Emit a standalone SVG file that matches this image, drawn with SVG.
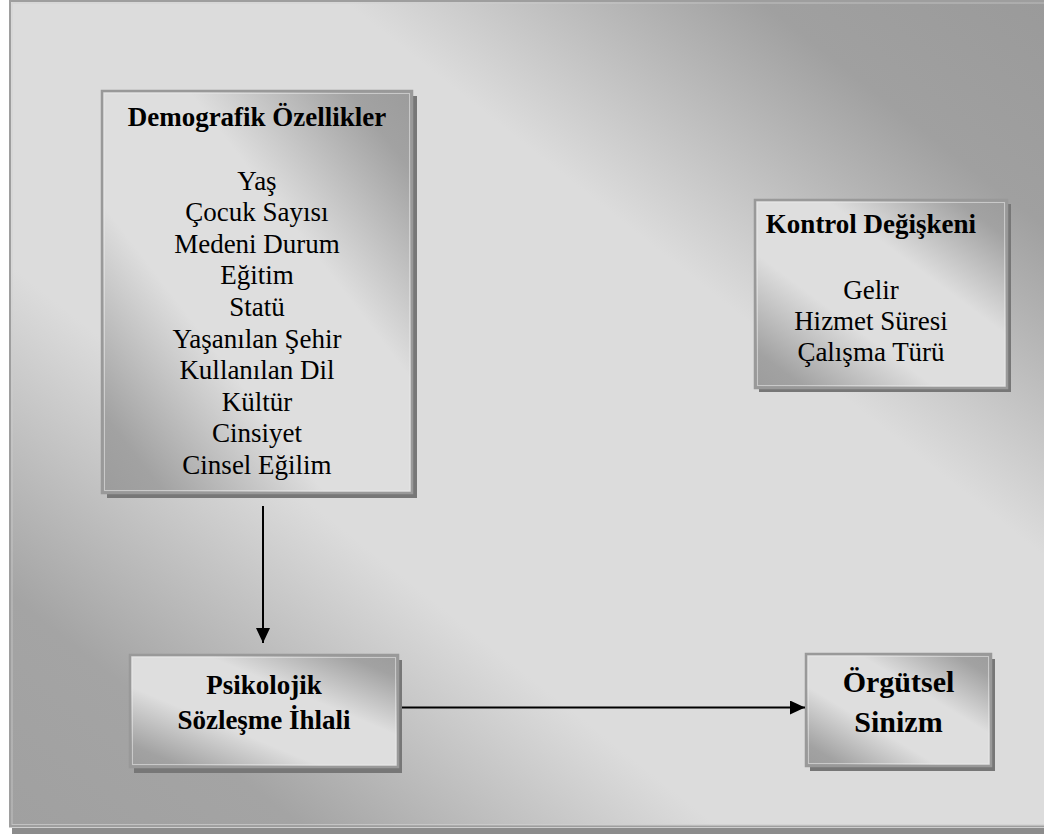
<svg xmlns="http://www.w3.org/2000/svg" width="1044" height="837" viewBox="0 0 1044 837">
  <defs>
    <!-- diagonal metallic sheen: dark at top-right and bottom-left, light along the middle -->
    <linearGradient id="sheen" x1="1" y1="0" x2="0" y2="1">
      <stop offset="0" stop-color="#9a9a9a"/>
      <stop offset="0.14" stop-color="#a0a0a0"/>
      <stop offset="0.34" stop-color="#dcdcdc"/>
      <stop offset="0.66" stop-color="#dcdcdc"/>
      <stop offset="0.86" stop-color="#a4a4a4"/>
      <stop offset="1" stop-color="#a0a0a0"/>
    </linearGradient>
    <linearGradient id="boxSheen" x1="1" y1="0" x2="0" y2="1">
      <stop offset="0" stop-color="#9c9c9c"/>
      <stop offset="0.1" stop-color="#a2a2a2"/>
      <stop offset="0.36" stop-color="#dedede"/>
      <stop offset="0.64" stop-color="#dedede"/>
      <stop offset="0.9" stop-color="#a2a2a2"/>
      <stop offset="1" stop-color="#9c9c9c"/>
    </linearGradient>
    <marker id="arrow" markerUnits="userSpaceOnUse" viewBox="0 0 15 14" markerWidth="15" markerHeight="14" refX="15" refY="7" orient="auto">
      <path d="M0,0 L15,7 L0,14 Z" fill="#000"/>
    </marker>
  </defs>
  <style>
    .shadow { fill: #777777; }
    .box { fill: url(#boxSheen); stroke: #999999; stroke-width: 2.5; }
    .bevel { fill: none; stroke: #e6e6e6; stroke-width: 1; opacity: 0.6; }
    .title { font-family: "Liberation Serif", "Times New Roman", serif; font-weight: bold; font-size: 27px; fill: #000; text-anchor: middle; }
    .item { font-family: "Liberation Serif", "Times New Roman", serif; font-size: 27px; fill: #000; text-anchor: middle; }
    .big { font-size: 30px; }
    .conn { stroke: #000; stroke-width: 2; fill: none; marker-end: url(#arrow); }
  </style>

  <rect x="0" y="0" width="1044" height="837" fill="#ffffff"/>

  <!-- background panel -->
  <g id="panel">
    <rect x="12" y="828" width="1040" height="6" fill="#8c8c8c"/>
    <rect x="10" y="1" width="1042" height="825.5" fill="url(#sheen)" stroke="#9e9e9e" stroke-width="2"/>
    <rect x="12" y="3" width="1040" height="821.5" fill="none" stroke="#d0d0d0" stroke-width="1" opacity="0.7"/>
  </g>

  <g id="demografik">
    <rect class="shadow" x="107" y="96" width="310" height="402"/>
    <rect class="box" x="102" y="91" width="310" height="402"/>
    <rect class="bevel" x="104.5" y="93.5" width="305" height="397"/>
    <text class="title" x="257" y="126">Demografik Özellikler</text>
    <text class="item" x="257" y="189.5">Yaş<tspan x="257" dy="31.6">Çocuk Sayısı</tspan><tspan x="257" dy="31.6">Medeni Durum</tspan><tspan x="257" dy="31.6">Eğitim</tspan><tspan x="257" dy="31.6">Statü</tspan><tspan x="257" dy="31.6">Yaşanılan Şehir</tspan><tspan x="257" dy="31.6">Kullanılan Dil</tspan><tspan x="257" dy="31.6">Kültür</tspan><tspan x="257" dy="31.6">Cinsiyet</tspan><tspan x="257" dy="31.6">Cinsel Eğilim</tspan></text>
  </g>

  <g id="kontrol">
    <rect class="shadow" x="759" y="204" width="252" height="188"/>
    <rect class="box" x="755" y="200" width="252" height="188"/>
    <rect class="bevel" x="757.5" y="202.5" width="247" height="183"/>
    <text class="title" x="871" y="233">Kontrol Değişkeni</text>
    <text class="item" x="871" y="298.5">Gelir<tspan x="871" dy="31">Hizmet Süresi</tspan><tspan x="871" dy="31">Çalışma Türü</tspan></text>
  </g>

  <g id="psikolojik">
    <rect class="shadow" x="134" y="660" width="268" height="113"/>
    <rect class="box" x="130" y="655" width="268" height="112"/>
    <rect class="bevel" x="132.5" y="657.5" width="263" height="107"/>
    <text class="title" x="264" y="694">Psikolojik<tspan x="264" dy="35">Sözleşme İhlali</tspan></text>
  </g>

  <g id="orgutsel">
    <rect class="shadow" x="810" y="659" width="185" height="112"/>
    <rect class="box" x="806" y="654" width="185" height="112"/>
    <rect class="bevel" x="808.5" y="656.5" width="180" height="107"/>
    <text class="title big" x="898.5" y="692">Örgütsel<tspan x="898.5" dy="39.5">Sinizm</tspan></text>
  </g>

  <g id="connectors">
    <line class="conn" x1="263" y1="506" x2="263" y2="643"/>
    <line class="conn" x1="402" y1="707.5" x2="805" y2="707.5"/>
  </g>
</svg>
